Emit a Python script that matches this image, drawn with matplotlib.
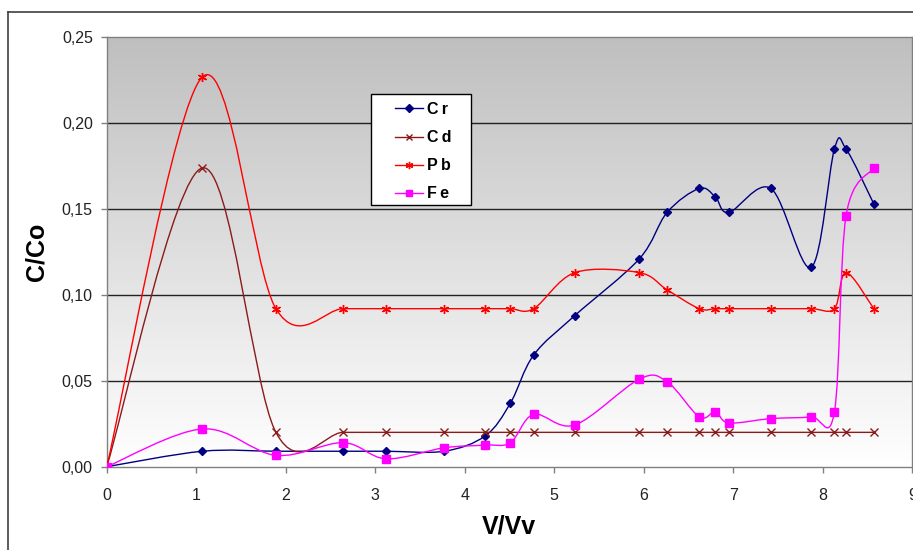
import numpy as np
import matplotlib
matplotlib.use('Agg')
import matplotlib.pyplot as plt
from matplotlib.path import Path
from matplotlib.patches import PathPatch, Rectangle
from matplotlib.lines import Line2D
from matplotlib.ticker import FuncFormatter, MultipleLocator

plt.rcParams['font.family'] = ['Liberation Sans', 'DejaVu Sans']

# data
vv = [0, 1.07, 1.89, 2.64, 3.12, 3.77, 4.23, 4.51, 4.77, 5.23,
      5.95, 6.26, 6.62, 6.80, 6.95, 7.42, 7.87, 8.13, 8.26, 8.57]
cr = [0, 0.009, 0.009, 0.009, 0.009, 0.009, 0.018, 0.037, 0.065, 0.088,
      0.121, 0.148, 0.162, 0.157, 0.148, 0.162, 0.116, 0.185, 0.185, 0.153]
cd = [0, 0.174, 0.020, 0.020, 0.020, 0.020, 0.020, 0.020, 0.020, 0.020,
      0.020, 0.020, 0.020, 0.020, 0.020, 0.020, 0.020, 0.020, 0.020, 0.020]
pb = [0, 0.227, 0.092, 0.092, 0.092, 0.092, 0.092, 0.092, 0.092, 0.113,
      0.113, 0.103, 0.092, 0.092, 0.092, 0.092, 0.092, 0.092, 0.113, 0.092]
fe = [0, 0.022, 0.0066, 0.014, 0.0046, 0.011, 0.0126, 0.014, 0.0305, 0.0243,
      0.051, 0.0495, 0.029, 0.032, 0.0255, 0.028, 0.029, 0.032, 0.146, 0.174]

series = [
    ('Cr', cr, '#000080', 'D', 4.5),
    ('Cd', cd, '#8B1A1A', 'x', 5.5),
    ('Pb', pb, '#FF0000', (6, 2, 0), 6.5),
    ('Fe', fe, '#FF00FF', 's', 5.5),
]


def smooth_path(x, y):
    # Excel-like smoothed line: Catmull-Rom segments as cubic Beziers
    pts = np.column_stack([x, y]).astype(float)
    verts = [pts[0]]
    codes = [Path.MOVETO]
    n = len(pts)
    for i in range(n - 1):
        p0 = pts[i - 1] if i > 0 else pts[i]
        p1 = pts[i]
        p2 = pts[i + 1]
        p3 = pts[i + 2] if i + 2 < n else pts[i + 1]
        c1 = p1 + (p2 - p0) / 6.0
        c2 = p2 - (p3 - p1) / 6.0
        verts += [c1, c2, p2]
        codes += [Path.CURVE4] * 3
    return Path(verts, codes)


fig = plt.figure(figsize=(9.13, 5.5), dpi=100)
ax = fig.add_axes([106.7 / 913, 83.3 / 550, 805.6 / 913, 429.4 / 550])

# gray-to-white gradient background
grad = np.linspace(1, 0, 256).reshape(-1, 1)
ax.imshow(grad, extent=[0, 1, 0, 1], transform=ax.transAxes, aspect='auto',
          cmap=plt.cm.colors.LinearSegmentedColormap.from_list('g', ['#ffffff', '#bfbfbf']),
          zorder=0, interpolation='bicubic')

for yv in [0.05, 0.10, 0.15, 0.20]:
    ax.axhline(yv, color='#222222', lw=1.0, zorder=1)

for name, yvals, col, mk, ms in series:
    ax.add_patch(PathPatch(smooth_path(vv, yvals), facecolor='none', edgecolor=col,
                           lw=1.0, zorder=3))
    ax.plot(vv, yvals, linestyle='none', marker=mk, color=col, ms=ms,
            mew=1.0, zorder=4)

ax.set_xlim(0, 9)
ax.set_ylim(0, 0.25)
ax.xaxis.set_major_locator(MultipleLocator(1))
ax.yaxis.set_major_locator(MultipleLocator(0.05))
ax.yaxis.set_major_formatter(FuncFormatter(lambda v, p: f"{v:.2f}".replace('.', ',')))
ax.tick_params(axis='both', direction='out', length=4, width=1, color='#808080',
               labelsize=11.5, labelcolor='#222222')
ax.tick_params(axis='y', pad=6)
ax.tick_params(axis='x', pad=11)
for sp in ax.spines.values():
    sp.set_color('#808080')
    sp.set_linewidth(1.0)

fig.text(36 / 913, 1 - 252 / 550, 'C/Co', rotation=90, ha='center', va='center',
         fontsize=18, fontweight='bold')
fig.text(509 / 913, 1 - 527 / 550, 'V/Vv', ha='center', va='center',
         fontsize=18, fontweight='bold')

# legend box drawn separately, entries placed inside it
fig.add_artist(Rectangle((370.7 / 913, 1 - 205 / 550), 100 / 913, 111 / 550,
                         transform=fig.transFigure, facecolor='white',
                         edgecolor='black', lw=1.0, zorder=5))
handles = [Line2D([0], [0], color=col, marker=mk, ms=ms * 0.8, lw=1.0)
           for name, yvals, col, mk, ms in series]
labels = ['\u2009'.join(s[0]) for s in series]
leg = fig.legend(handles, labels, loc='upper left',
                 bbox_to_anchor=(395 / 913, 1 - 102 / 550), bbox_transform=fig.transFigure,
                 borderaxespad=0, borderpad=0, frameon=False,
                 prop={'weight': 'bold', 'size': 11.5},
                 labelspacing=0.82, handlelength=1.75, handletextpad=0.25)
leg.set_zorder(6)

# outer chart border (cropped at right/bottom)
fig.add_artist(Line2D([8 / 913, 8 / 913], [0, 1 - 12 / 550], transform=fig.transFigure,
                      color='#404040', lw=1.2))
fig.add_artist(Line2D([8 / 913, 1], [1 - 12 / 550, 1 - 12 / 550], transform=fig.transFigure,
                      color='#404040', lw=1.2))

fig.savefig('out.png', dpi=100)
